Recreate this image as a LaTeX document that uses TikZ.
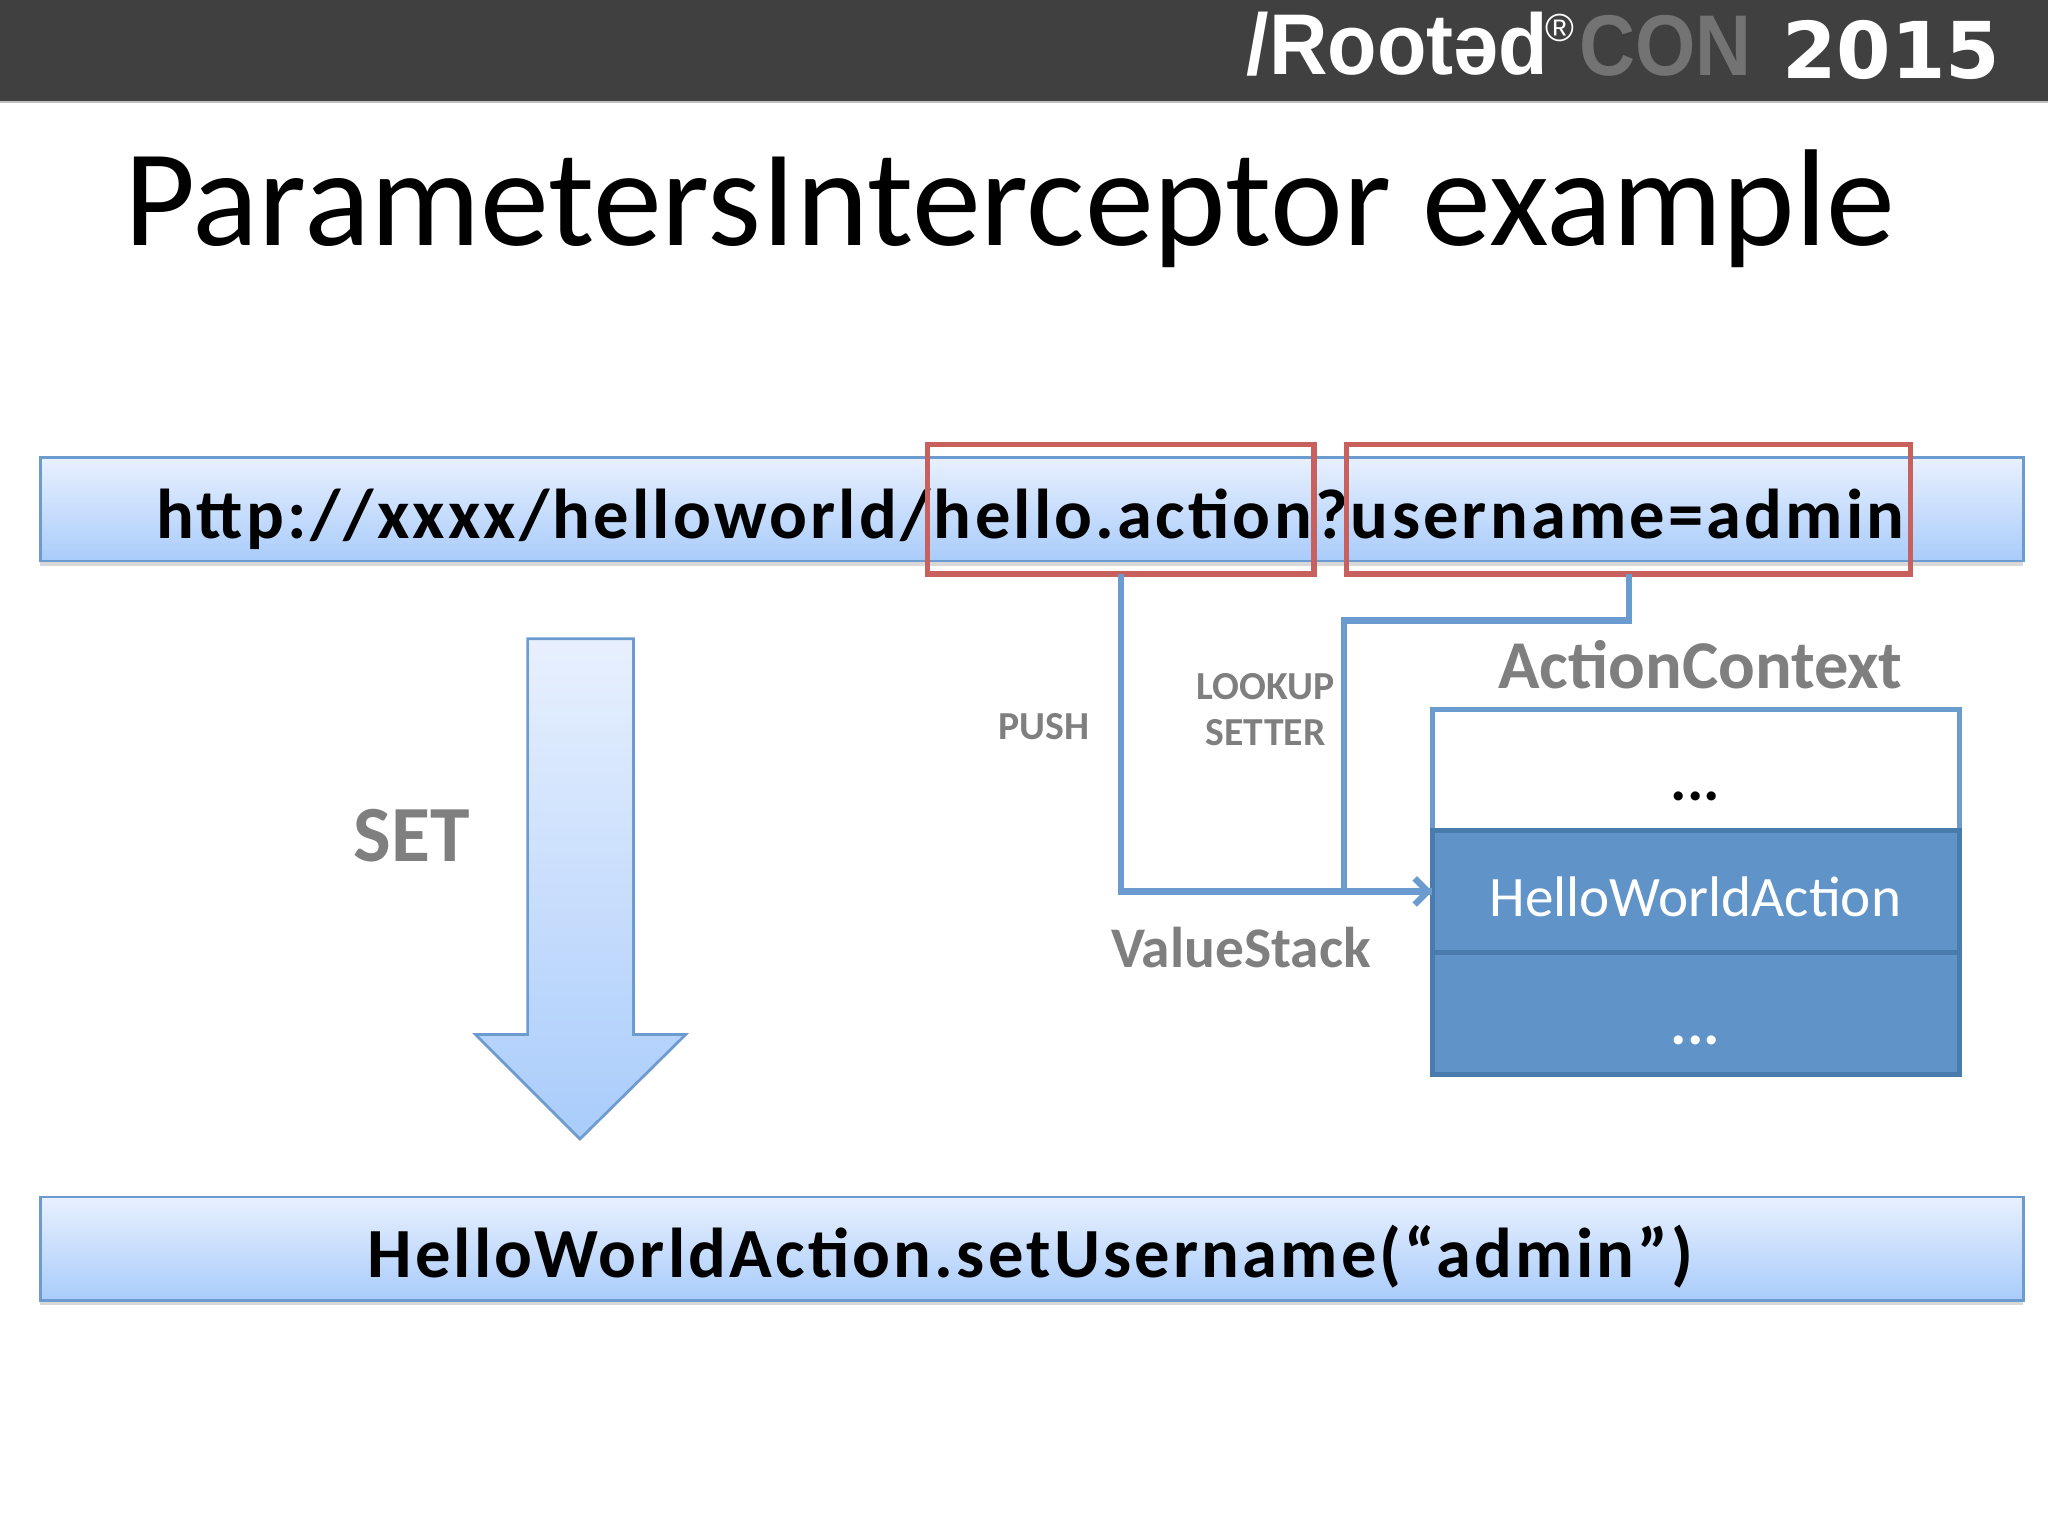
\documentclass[tikz,border=0pt]{standalone}
\usepackage{fontspec}
\setmainfont{Carlito}
\newfontfamily\barfont[LetterSpace=4.5]{Carlito}
\newfontfamily\logofont{Liberation Sans}
\newfontfamily\yearfont{DejaVu Sans}
\usetikzlibrary{arrows.meta,shadows}
\definecolor{barblue}{HTML}{6C9BD0}
\definecolor{bartop}{HTML}{E8F0FE}
\definecolor{barlow}{HTML}{A9CCFB}
\definecolor{redbox}{HTML}{C8605E}
\definecolor{slotblue}{HTML}{6093C8}
\definecolor{slotedge}{HTML}{4A7BAD}
\definecolor{labelgray}{HTML}{7F7F7F}
\tikzset{
	gradbar/.style={draw=barblue,line width=1pt,top color=bartop,bottom color=barlow,minimum width=759pt,minimum height=39.5pt,outer sep=0pt,inner sep=0pt,drop shadow={shadow xshift=0pt,shadow yshift=-2pt,opacity=.3}},
	bartext/.style={font=\barfont\bfseries\fontsize{27}{31}\selectfont},
	redframe/.style={draw=redbox,line width=2pt,minimum height=49.5pt,outer sep=0pt,inner sep=0pt},
	slotbox/.style={minimum width=202pt,minimum height=46.5pt,outer sep=0pt,inner sep=0pt,line width=2pt},
	graylabel/.style={text=labelgray,font=\bfseries\fontsize{15.2}{18}\selectfont,inner sep=0pt},
	biglabel/.style={text=labelgray,font=\bfseries\fontsize{26.2}{30}\selectfont,inner sep=0pt},
	logotext/.style={inner sep=0pt,anchor=base west},
	link/.style={draw=barblue,line width=2.4pt}
}
\begin{document}
\begin{tikzpicture}[x=.5pt,y=-.5pt]
	\useasboundingbox (0,0) rectangle (1568,1176);
	\fill[white] (0,0) rectangle (1568,1176);
	\fill[black!25] (0,77) rectangle (1568,79);
	\fill[black!75] (0,0) rectangle (1568,77);
	\node[logotext,text=white,xscale=.94] (rooted) at (954,57) {\logofont\bfseries\fontsize{33}{36}\selectfont /Root\char"0259 d};
	\node[logotext,text=white] (regmark) at (1183,32) {\logofont\fontsize{15}{18}\selectfont ®};
	\node[logotext,text=black!55,xscale=.9] (con) at (1209,58) {\logofont\bfseries\fontsize{33}{36}\selectfont CON};
	\node[logotext,text=white] (year) at (1364,60) {\yearfont\bfseries\fontsize{30}{34}\selectfont 2015};

	\node[inner sep=0pt,anchor=base] (title) at (773,188) {\fontsize{52.8}{60}\selectfont ParametersInterceptor example};

	\node[gradbar] (urlbar) at (790,390) {};
	\node[bartext,anchor=base,inner sep=0pt] (urltext) at (789,412) {http://xxxx/helloworld/hello.action?username=admin};
	\node[redframe,minimum width=148pt] (hellobox) at (858,390) {};
	\node[redframe,minimum width=216pt] (userbox) at (1247,390) {};

	\path[draw=barblue,line width=1pt,top color=bartop,bottom color=barlow,drop shadow={shadow xshift=0pt,shadow yshift=-1pt,opacity=.2}] (404,489) -- (485,489) -- (485,792) -- (525,792) -- (444,872) -- (364,792) -- (404,792) -- cycle;
	\node[text=labelgray,font=\bfseries\fontsize{30.5}{34}\selectfont,inner sep=0pt] (setlabel) at (315,640) {SET};

	\node[slotbox,draw=barblue,fill=white] (slottop) at (1298.5,589.5) {};
	\node[slotbox,draw=slotedge,fill=slotblue] (slotmid) at (1298.5,682.5) {};
	\node[slotbox,draw=slotedge,fill=slotblue] (slotlow) at (1298.5,776) {};
	\node[inner sep=0pt,text=white] (slottext) at (1298,687) {\fontsize{21.9}{26}\selectfont HelloWorldAction};
	\node[inner sep=0pt,anchor=base] (dotstop) at (1298,613) {\bfseries\fontsize{23.5}{28}\selectfont ...};
	\node[inner sep=0pt,anchor=base,text=white] (dotslow) at (1298,800) {\bfseries\fontsize{23.5}{28}\selectfont ...};

	\node[biglabel] (context) at (1302,509) {ActionContext};
	\node[graylabel,font=\bfseries\fontsize{22}{26}\selectfont] (stacklabel) at (950,725.5) {ValueStack};
	\node[graylabel] (pushlabel) at (799,556) {PUSH};
	\node[graylabel] (lookuplabel) at (969,526) {LOOKUP};
	\node[graylabel] (setterlabel) at (969,561) {SETTER};

	\coordinate (turn) at (1029,475);
	\draw[link] (hellobox.south) |- (slotmid.west);
	\draw[link,-{Straight Barb[length=5pt,width=10pt,line width=2.4pt]}] (userbox.south) |- (turn) |- (slotmid.west);

	\node[gradbar] (callbar) at (790,956) {};
	\node[bartext,anchor=base,inner sep=0pt] (calltext) at (789,978) {HelloWorldAction.setUsername(“admin”)};
\end{tikzpicture}
\end{document}
